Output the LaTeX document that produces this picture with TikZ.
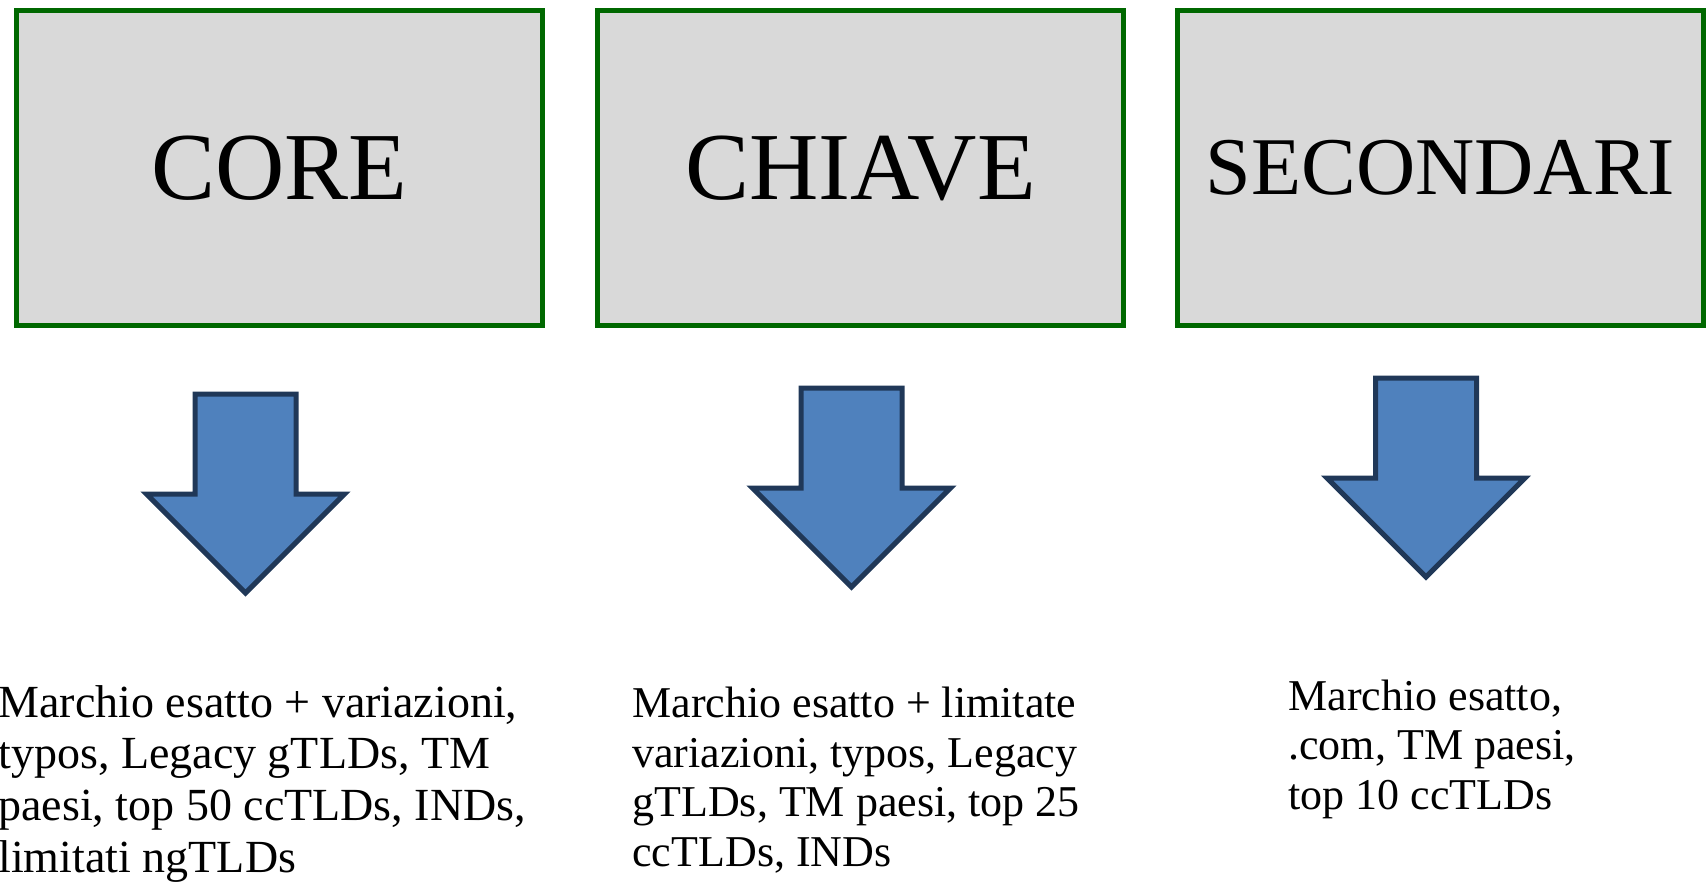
\documentclass[tikz,border=0pt]{standalone}
\usepackage{fontspec}
\setmainfont{Liberation Serif}

\definecolor{boxgreen}{RGB}{0,104,0}
\definecolor{boxgray}{RGB}{217,217,217}
\definecolor{arrowblue}{RGB}{79,129,189}
\definecolor{arrowline}{RGB}{32,56,88}

\tikzset{
    catbox/.style={draw=boxgreen, fill=boxgray, line width=2.5pt, inner sep=0pt,
        minimum width=263.25pt, minimum height=157.5pt},
    blockarrow/.style={draw=arrowline, fill=arrowblue, line width=2.5pt},
    desc/.style={anchor=base west, align=left, inner sep=0pt,
        font=\fontsize{22}{24.75}\selectfont}
}

\begin{document}
\begin{tikzpicture}[x=0.5pt,y=-0.5pt]
    \useasboundingbox (0,0) rectangle (1708,889);
    % categorie
    \node[catbox, font=\fontsize{48}{50}\selectfont] (core) at (279.5,168) {CORE};
    \node[catbox, font=\fontsize{48}{50}\selectfont] (chiave) at (860.5,168) {CHIAVE};
    \node[catbox, font=\fontsize{41}{44}\selectfont] (secondari) at (1440.5,168) {SECONDARI};
    % frecce
    \draw[blockarrow] (195,394) -- (296,394) -- (296,494) -- (344.5,494) -- (245.5,593) -- (146.5,494) -- (195,494) -- cycle;
    \draw[blockarrow] (801,388) -- (902,388) -- (902,488) -- (950.5,488) -- (851.5,587) -- (752.5,488) -- (801,488) -- cycle;
    \draw[blockarrow] (1375.5,378) -- (1476.5,378) -- (1476.5,478) -- (1525,478) -- (1426,577) -- (1327,478) -- (1375.5,478) -- cycle;
    % descrizioni (base = ultima riga)
    \node[desc, font=\fontsize{23}{25.8}\selectfont] (coretxt) at (-2,872) {Marchio esatto + variazioni,\\typos, Legacy gTLDs, TM\\paesi, top 50 ccTLDs, INDs,\\limitati ngTLDs};
    \node[desc] (chiavetxt) at (632,866) {Marchio esatto + limitate\\variazioni, typos, Legacy\\gTLDs, TM paesi, top 25\\ccTLDs, INDs};
    \node[desc] (secondaritxt) at (1288,809) {Marchio esatto,\\.com, TM paesi,\\top 10 ccTLDs};
\end{tikzpicture}
\end{document}
